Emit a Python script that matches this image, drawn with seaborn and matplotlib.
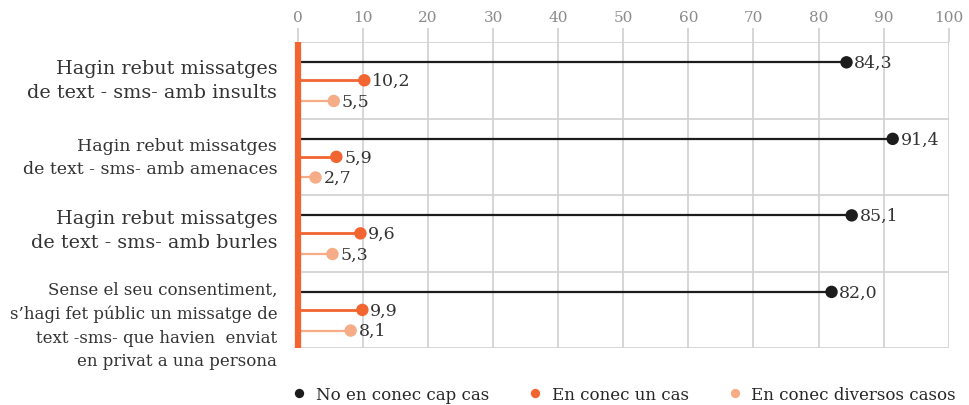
import pandas as pd
import matplotlib.pyplot as plt
import seaborn as sns

# Dades
categories = [
    "Hagin rebut missatges\nde text - sms- amb insults",
    "Hagin rebut missatges\nde text - sms- amb amenaces",
    "Hagin rebut missatges\nde text - sms- amb burles",
    "Sense el seu consentiment,\ns\u2019hagi fet públic un missatge de\ntext -sms- que havien  enviat\nen privat a una persona",
]
series = ["No en conec cap cas", "En conec un cas", "En conec diversos casos"]
cap_cas = [84.3, 91.4, 85.1, 82.0]
un_cas = [10.2, 5.9, 9.6, 9.9]
diversos = [5.5, 2.7, 5.3, 8.1]

colors = ["#1c1c1c", "#f26530", "#f6ad87"]
offsets = [-0.235, 0.0, 0.27]
stem_lw = [1.6, 2.0, 1.6]
label_fs = [13.8, 12.5, 13.8, 12]
label_y = [0, 0, -0.04, 0.2]
label_ls = [1.45, 1.5, 1.45, 1.5]

sns.set_theme(style="whitegrid")
plt.rcParams['font.family'] = ['DejaVu Serif']

rows = []
for s, vals, off in zip(series, [cap_cas, un_cas, diversos], offsets):
    for i, v in enumerate(vals):
        rows.append({"serie": s, "valor": v, "y": i + off})
df = pd.DataFrame(rows)

fig = plt.figure(figsize=(9.69, 4.06), dpi=100)
ax = fig.add_axes([0.3075, 0.14, 0.6715, 0.754])

# stems
for s, c, lw in zip(series, colors, stem_lw):
    d = df[df.serie == s]
    ax.hlines(d.y, 0, d.valor, color=c, lw=lw, zorder=2)

sns.scatterplot(data=df, x="valor", y="y", hue="serie", palette=colors,
                s=80, edgecolor="none", ax=ax, zorder=3)

# etiquetes de valor
for _, r in df.iterrows():
    ax.text(r.valor + 1.2, r.y, f"{r.valor:.1f}".replace(".", ","),
            va="center", ha="left", fontsize=12.5, color="#333333")

ax.axvline(0, color="#f26530", lw=4.5, zorder=4, clip_on=False,
           solid_capstyle="butt")

ax.set_xlim(0, 100)
ax.set_ylim(3.5, -0.5)
ax.set_xticks(range(0, 101, 10))
ax.xaxis.tick_top()
ax.tick_params(axis="x", colors="#d0d0d0", labelcolor="#8a8a8a",
               labelsize=11, length=10, width=1.2, pad=3)
ax.set_yticks([-0.5, 0.5, 1.5, 2.5, 3.5], minor=True)
ax.set_yticks([])
ax.tick_params(axis="y", which="both", length=0)

# etiquetes de categoria
trans = ax.get_yaxis_transform()
for i, (cat, fs, dy, ls) in enumerate(zip(categories, label_fs, label_y, label_ls)):
    ax.text(-0.032, i + dy, cat, transform=trans, ha="right", va="center",
            fontsize=fs, linespacing=ls, color="#333333", multialignment="right")

ax.grid(False)
ax.grid(axis="x", which="major", color="#d0d0d0", lw=1.2)
ax.grid(axis="y", which="minor", color="#d0d0d0", lw=1.2)
for sp in ax.spines.values():
    sp.set_visible(False)
ax.set_xlabel("")
ax.set_ylabel("")

handles, labels = ax.get_legend_handles_labels()
ax.legend_.remove()
fig.legend(handles, labels, loc="center left", bbox_to_anchor=(0.285, 0.027),
           ncol=3, frameon=False, fontsize=12, handletextpad=0.0,
           columnspacing=1.75, markerscale=0.75, borderaxespad=0)

fig.savefig("out.png", dpi=100)
